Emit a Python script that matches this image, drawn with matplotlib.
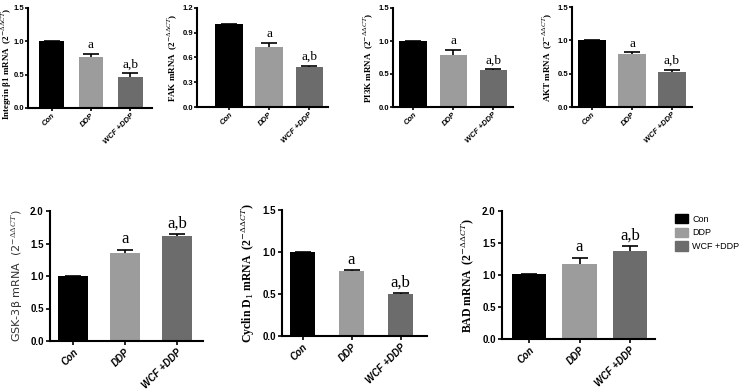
import numpy as np
import matplotlib.pyplot as plt

# --- data ---
groups = ["Con", "DDP", "WCF +DDP"]
letters = ["", "a", "a,b"]

integrin_mean = [1.00, 0.76, 0.47]
integrin_err = [0.01, 0.05, 0.05]
fak_mean = [1.00, 0.73, 0.49]
fak_err = [0.005, 0.05, 0.01]
pi3k_mean = [1.00, 0.79, 0.56]
pi3k_err = [0.005, 0.08, 0.01]
akt_mean = [1.00, 0.79, 0.52]
akt_err = [0.005, 0.03, 0.04]
gsk_mean = [1.00, 1.36, 1.62]
gsk_err = [0.005, 0.04, 0.02]
cyclin_mean = [1.00, 0.77, 0.50]
cyclin_err = [0.005, 0.01, 0.01]
bad_mean = [1.01, 1.17, 1.37]
bad_err = [0.005, 0.10, 0.08]

colors = ["#000000", "#9c9c9c", "#6c6c6c"]

plt.rcParams['mathtext.fontset'] = 'dejavuserif'
W, H = 740, 391
fig = plt.figure(figsize=(W / 100, H / 100), dpi=100)


def px_axes(left, top, right, bottom):
    return fig.add_axes([left / W, 1 - bottom / H, (right - left) / W, (bottom - top) / H])


def bar_panel(box, mean, err, ylabel, ylim, yticks, xlim, width, small=True,
              label_font='serif', label_xy=None):
    ax = px_axes(*box)
    x = np.arange(len(groups))
    ax.bar(x, mean, width=width, color=colors, zorder=2)
    cont = ax.errorbar(x, mean, yerr=[np.zeros(len(err)), err], fmt='none',
                       ecolor='black', elinewidth=1.2, capsize=5.5, capthick=1.2, zorder=3)
    cont.lines[1][0].set_visible(False)  # hide lower caps
    fs = 5.5 if small else 7
    afs = 9.5 if small else 12
    for xi, m, e, lab in zip(x, mean, err, letters):
        if lab:
            ax.annotate(lab, (xi, m + e), xytext=(0, 2), textcoords='offset points',
                        ha='center', va='bottom', family='Liberation Serif', fontsize=afs)
    ax.set_xlim(*xlim)
    ax.set_ylim(*ylim)
    ax.set_yticks(yticks)
    ax.set_yticklabels([f"{t:.1f}" for t in yticks], fontsize=fs, fontweight='bold',
                       family='Liberation Sans')
    ax.set_xticks(x)
    ax.set_xticklabels(groups, rotation=45, ha='right', rotation_mode='anchor',
                       fontsize=fs, fontweight='bold', style='italic', family='Liberation Sans')
    for s in ['top', 'right']:
        ax.spines[s].set_visible(False)
    for s in ['left', 'bottom']:
        ax.spines[s].set_linewidth(1.5)
    if small:
        ax.tick_params(width=1.2, length=2, pad=0.8)
    else:
        ax.tick_params(width=1.2, length=3, pad=1.5)
    if label_font == 'serif':
        ax.set_ylabel(ylabel, family='Liberation Serif', fontsize=6.5 if small else 8.5,
                      fontweight='bold', labelpad=2 if small else 4)
    else:
        ax.set_ylabel(ylabel, family='DejaVu Sans', fontsize=8, color='#333333', labelpad=4)
    if label_xy is not None:
        ax.yaxis.set_label_coords(*label_xy)
    return ax


sup = r"$^{-\Delta\Delta CT}$"
bar_panel((28, 8, 152, 108), integrin_mean, integrin_err,
          "Integrin β1 mRNA  (2" + sup + ")", (0, 1.5), [0, 0.5, 1.0, 1.5], (-0.6, 2.55), 0.62,
          label_xy=(-0.11, 0.44))
bar_panel((197, 8, 328, 107), fak_mean, fak_err,
          "FAK mRNA  (2" + sup + ")", (0, 1.2), [0, 0.3, 0.6, 0.9, 1.2], (-0.8, 2.47), 0.68)
bar_panel((393, 8, 513, 107), pi3k_mean, pi3k_err,
          "PI3K mRNA  (2" + sup + ")", (0, 1.5), [0, 0.5, 1.0, 1.5], (-0.5, 2.49), 0.68)
bar_panel((572, 7, 692, 107), akt_mean, akt_err,
          "AKT mRNA  (2" + sup + ")", (0, 1.5), [0, 0.5, 1.0, 1.5], (-0.5, 2.5), 0.7)

bar_panel((50, 211, 203, 341), gsk_mean, gsk_err,
          "GSK-3β mRNA  (2" + sup + ")", (0, 2.0), [0, 0.5, 1.0, 1.5, 2.0], (-0.44, 2.5), 0.58,
          small=False, label_font='sans')
bar_panel((282, 210, 427, 336), cyclin_mean, cyclin_err,
          r"Cyclin D$_1$ mRNA  (2" + sup + ")", (0, 1.5), [0, 0.5, 1.0, 1.5], (-0.42, 2.54), 0.5,
          small=False)
bar_panel((502, 211, 655, 339), bad_mean, bad_err,
          "BAD mRNA  (2" + sup + ")", (0, 2.0), [0, 0.5, 1.0, 1.5, 2.0], (-0.54, 2.5), 0.68,
          small=False)

# legend
handles = [plt.Rectangle((0, 0), 1, 1, color=c) for c in colors]
fig.legend(handles, groups, loc='upper left', bbox_to_anchor=(675 / W, 1 - 214 / H),
           frameon=False, fontsize=6.5, handlelength=1.4, handleheight=1.2,
           handletextpad=0.5, labelspacing=0.45, borderaxespad=0, borderpad=0,
           prop={'family': 'Liberation Sans', 'size': 6.5})

plt.savefig("out.png", dpi=100)
